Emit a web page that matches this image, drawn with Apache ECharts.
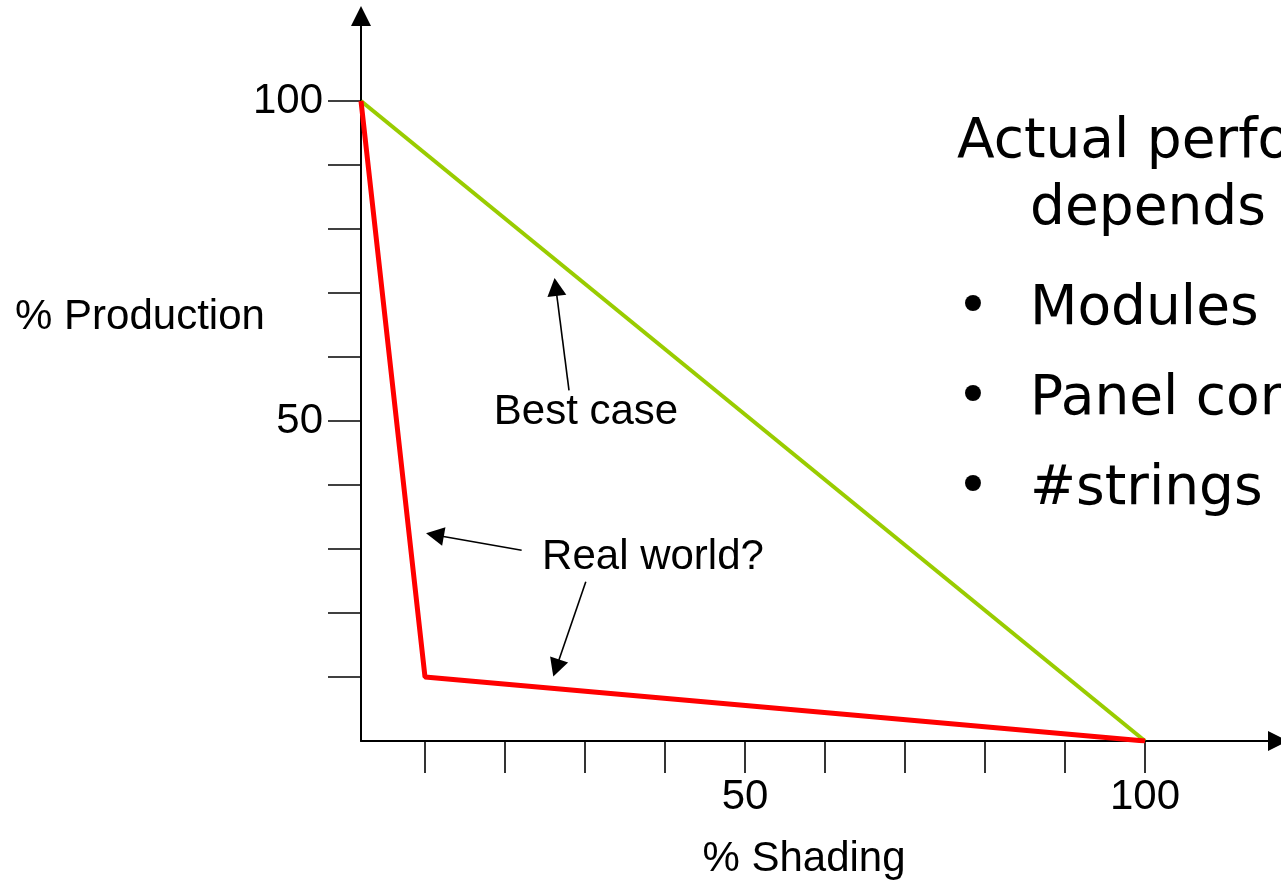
<!DOCTYPE html>
<html>
<head>
<meta charset="utf-8">
<script src="https://cdn.jsdelivr.net/npm/echarts@6.0.0/dist/echarts.min.js"></script>
<style>
html,body{margin:0;padding:0;background:#fff;}
#chart{width:1281px;height:881px;}
</style>
</head>
<body>
<div id="chart"></div>
<script>
// ---- data ----
const bestCase = [[2, 100], [100, 0]];
const realWorld = [[2, 100], [10, 10], [100, 0]];
const xTicks = [10, 20, 30, 40, 50, 60, 70, 80, 90, 100];
const yTicks = [10, 20, 30, 40, 50, 60, 70, 80, 90, 100];
const xLabels = [50, 100];
const yLabels = [50, 100];
// annotation arrows: [tail, head] in data units
const bestArrows = [[[28.0, 54.8], [26.34, 70.95]]];
const realArrows = [[[22.08, 29.8], [11.24, 32.2]], [[30.1, 24.9], [26.4, 11.4]]];
const sideText = ['Actual perfo', 'depends'];
const bullets = ['Modules', 'Panel con', '#strings'];

const chart = echarts.init(document.getElementById('chart'), null, {renderer: 'canvas'});
const FONT = 'Liberation Sans, Arial, sans-serif';
const axisCommon = {
  type: 'value',
  splitLine: {show: false},
  axisLine: {show: true, onZero: false, symbol: ['none', 'triangle'], symbolSize: [20, 20],
    lineStyle: {color: '#000', width: 2}},
};
function arrowData(arr) {
  return arr.map(a => [{coord: a[0]}, {coord: a[1]}]);
}
const markCommon = {
  silent: true,
  symbol: ['none', 'triangle'],
  symbolSize: [19, 18],
  lineStyle: {color: '#000', width: 1.6, type: 'solid'},
  itemStyle: {color: '#000'},
  label: {show: false},
  emphasis: {disabled: true},
  animation: false
};
const option = {
  animation: false,
  backgroundColor: '#fff',
  grid: {left: 361, right: 3, top: 16, bottom: 140, containLabel: false, outerBoundsMode: 'none'},
  xAxis: Object.assign({}, axisCommon, {
    min: 2, max: 116.625,
    axisTick: {show: true, length: 32, customValues: xTicks, lineStyle: {color: '#000', width: 1.6}},
    axisLabel: {customValues: xLabels, margin: 35, color: '#000', fontSize: 42, fontFamily: FONT}
  }),
  yAxis: Object.assign({}, axisCommon, {
    min: 0, max: 113.28,
    axisTick: {show: true, length: 33, customValues: yTicks, lineStyle: {color: '#000', width: 1.6}},
    axisLabel: {customValues: yLabels, margin: 38, color: '#000', fontSize: 42, fontFamily: FONT,
      verticalAlign: 'middle', padding: [4, 0, 0, 0]}
  }),
  series: [
    {type: 'line', name: 'Best case', data: bestCase, showSymbol: false, silent: true,
      lineStyle: {color: '#99CC00', width: 4}, z: 2,
      markLine: Object.assign({}, markCommon, {data: arrowData(bestArrows)})},
    {type: 'line', name: 'Real world?', data: realWorld, showSymbol: false, silent: true,
      lineStyle: {color: '#FF0000', width: 5}, z: 3,
      markLine: Object.assign({}, markCommon, {data: arrowData(realArrows)})}
  ],
  graphic: [
    {type: 'text', x: 140, y: 317, style: {text: '% Production', font: '42px ' + FONT, fill: '#000', align: 'center', verticalAlign: 'middle'}},
    {type: 'text', x: 804, y: 859, style: {text: '% Shading', font: '42px ' + FONT, fill: '#000', align: 'center', verticalAlign: 'middle'}},
    {type: 'text', x: 586, y: 412, style: {text: 'Best case', font: '42px ' + FONT, fill: '#000', align: 'center', verticalAlign: 'middle'}},
    {type: 'text', x: 653, y: 557, style: {text: 'Real world?', font: '42px ' + FONT, fill: '#000', align: 'center', verticalAlign: 'middle'}},
    {type: 'text', x: 957, y: 143, style: {text: sideText[0], font: '55px DejaVu Sans', fill: '#000', align: 'left', verticalAlign: 'middle'}},
    {type: 'text', x: 1030, y: 210, style: {text: sideText[1], font: '55px DejaVu Sans', fill: '#000', align: 'left', verticalAlign: 'middle'}},
    ...bullets.flatMap((t, i) => [
      {type: 'text', x: 973, y: 310 + i * 90, style: {text: '\u2022', font: '55px DejaVu Sans', fill: '#000', align: 'center', verticalAlign: 'middle'}},
      {type: 'text', x: 1030, y: 310 + i * 90, style: {text: t, font: '55px DejaVu Sans', fill: '#000', align: 'left', verticalAlign: 'middle'}}
    ])
  ]
};
chart.setOption(option);
</script>
</body>
</html>
